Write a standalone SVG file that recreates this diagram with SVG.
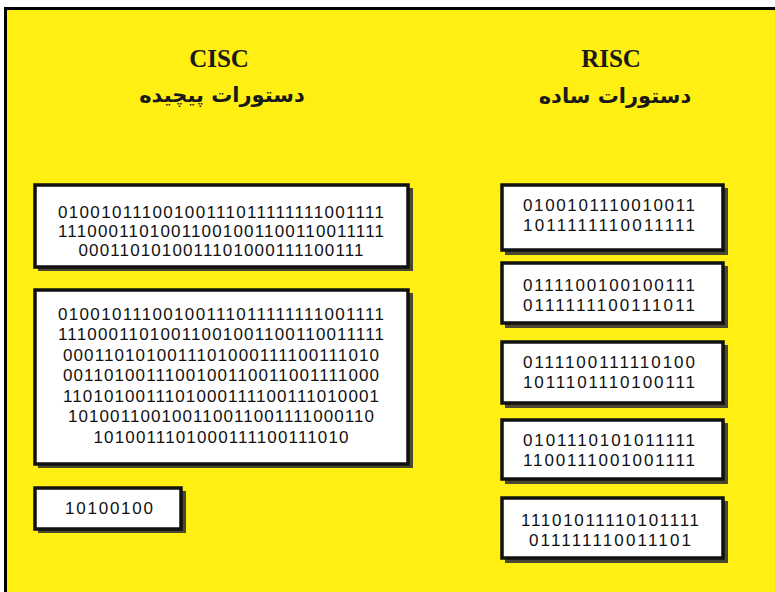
<svg xmlns="http://www.w3.org/2000/svg" width="775" height="592" viewBox="0 0 775 592">
<style>
.bin{font-family:"Liberation Sans",Arial,sans-serif;font-size:17px;fill:#111;text-anchor:middle}
.title{font-family:"Liberation Serif","Times New Roman",serif;font-size:25px;font-weight:bold;fill:#1a1a1a;text-anchor:middle}
.fa{font-family:"DejaVu Sans","Noto Sans",sans-serif;font-size:21px;font-weight:bold;fill:#1a1a1a;text-anchor:middle}
.box{fill:#fff;stroke:#111;stroke-width:3.5}
.shadow{fill:#4a4830}
</style>
<rect x="0" y="0" width="775" height="592" fill="#fff"/>
<rect x="5.5" y="8.5" width="780" height="600" fill="#FFEF12" stroke="#000" stroke-width="3"/>
<g id="title-cisc">
<text class="title" x="219" y="67">CISC</text>
<text class="fa" x="222" y="102" direction="rtl">دستورات پیچیده</text>
</g>
<g id="title-risc">
<text class="title" x="611" y="67">RISC</text>
<text class="fa" x="615" y="103" direction="rtl">دستورات ساده</text>
</g>
<g id="cisc-1">
<rect class="shadow" x="38" y="188" width="375" height="83"/>
<rect class="box" x="35" y="185" width="373" height="82"/>
<text class="bin" x="221" y="218" textLength="326" lengthAdjust="spacing">01001011100100111011111111001111</text>
<text class="bin" x="221" y="237" textLength="326" lengthAdjust="spacing">11100011010011001001100110011111</text>
<text class="bin" x="221" y="256" textLength="285" lengthAdjust="spacing">0001101010011101000111100111</text>
</g>
<g id="cisc-2">
<rect class="shadow" x="38" y="293" width="375" height="175"/>
<rect class="box" x="35" y="290" width="373" height="174"/>
<text class="bin" x="221" y="320" textLength="326" lengthAdjust="spacing">01001011100100111011111111001111</text>
<text class="bin" x="221" y="340" textLength="326" lengthAdjust="spacing">11100011010011001001100110011111</text>
<text class="bin" x="221" y="361" textLength="316" lengthAdjust="spacing">0001101010011101000111100111010</text>
<text class="bin" x="221" y="381" textLength="316" lengthAdjust="spacing">0011010011100100110011001111000</text>
<text class="bin" x="221" y="402" textLength="316" lengthAdjust="spacing">1101010011101000111100111010001</text>
<text class="bin" x="221" y="422" textLength="306" lengthAdjust="spacing">101001100100110011001111000110</text>
<text class="bin" x="221" y="443" textLength="255" lengthAdjust="spacing">1010011101000111100111010</text>
</g>
<g id="cisc-3">
<rect class="shadow" x="38" y="491" width="148" height="42"/>
<rect class="box" x="35" y="488" width="146" height="41"/>
<text class="bin" x="109" y="514" textLength="88" lengthAdjust="spacing">10100100</text>
</g>
<g id="risc-1">
<rect class="shadow" x="505" y="188" width="223" height="67"/>
<rect class="box" x="502" y="185" width="221" height="65"/>
<text class="bin" x="609" y="211" textLength="172" lengthAdjust="spacing">0100101110010011</text>
<text class="bin" x="609" y="231" textLength="172" lengthAdjust="spacing">1011111110011111</text>
</g>
<g id="risc-2">
<rect class="shadow" x="505" y="266" width="223" height="62"/>
<rect class="box" x="502" y="263" width="221" height="60"/>
<text class="bin" x="609" y="291" textLength="172" lengthAdjust="spacing">0111100100100111</text>
<text class="bin" x="609" y="311" textLength="172" lengthAdjust="spacing">0111111100111011</text>
</g>
<g id="risc-3">
<rect class="shadow" x="505" y="345" width="223" height="63"/>
<rect class="box" x="502" y="342" width="221" height="61"/>
<text class="bin" x="609" y="368" textLength="172" lengthAdjust="spacing">0111100111110100</text>
<text class="bin" x="609" y="388" textLength="172" lengthAdjust="spacing">1011101110100111</text>
</g>
<g id="risc-4">
<rect class="shadow" x="505" y="423" width="223" height="61"/>
<rect class="box" x="502" y="420" width="221" height="59"/>
<text class="bin" x="609" y="446" textLength="172" lengthAdjust="spacing">0101110101011111</text>
<text class="bin" x="609" y="466" textLength="172" lengthAdjust="spacing">1100111001001111</text>
</g>
<g id="risc-5">
<rect class="shadow" x="505" y="501" width="223" height="62"/>
<rect class="box" x="502" y="498" width="221" height="60"/>
<text class="bin" x="610" y="526" textLength="178" lengthAdjust="spacing">11101011110101111</text>
<text class="bin" x="610" y="546" textLength="162" lengthAdjust="spacing">011111110011101</text>
</g>
<g id="connectors"></g>
</svg>
